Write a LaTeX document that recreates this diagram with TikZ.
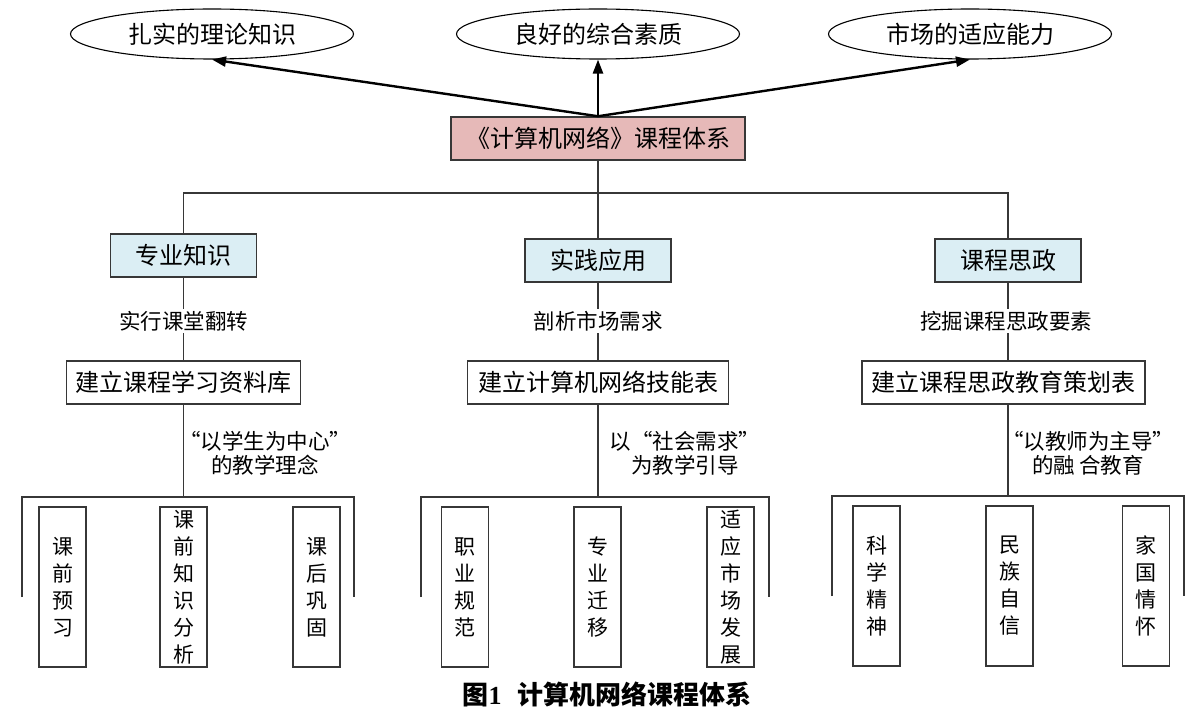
\documentclass[tikz,border=0pt]{standalone}
\usepackage{fontspec}
\newfontfamily\cjk{Noto Sans CJK SC}
\newfontfamily\numfont{Liberation Serif}
\usetikzlibrary{arrows.meta,shapes.geometric}
\definecolor{rootfill}{RGB}{230,185,184}
\definecolor{bluefill}{RGB}{219,238,244}
\definecolor{edge}{RGB}{55,55,55}
\begin{document}
\begin{tikzpicture}[x=1pt,y=-1pt,
  every node/.style={font=\cjk, text=black},
  goal/.style={ellipse, draw=black, line width=1.1pt, minimum width=283pt, minimum height=50pt, inner sep=0pt, font=\cjk\fontsize{24}{28}\selectfont},
  rootbox/.style={draw=edge, line width=1.5pt, fill=rootfill, minimum width=294pt, minimum height=43pt, inner sep=0pt, font=\cjk\fontsize{24}{28}\selectfont},
  topicbox/.style={draw=edge, line width=1.5pt, fill=bluefill, minimum width=146pt, minimum height=43pt, inner sep=0pt, font=\cjk\fontsize{24}{28}\selectfont},
  planbox/.style={draw=edge, line width=1.5pt, fill=white, minimum height=43pt, inner sep=0pt, font=\cjk\fontsize{24}{28}\selectfont},
  leafbox/.style={draw=edge, line width=1.5pt, fill=white, minimum width=47pt, minimum height=160pt, inner sep=0pt, align=center, font=\cjk\fontsize{21}{27}\selectfont},
  steplabel/.style={fill=white, inner sep=2pt, font=\cjk\fontsize{21.5}{24}\selectfont},
  sidelabel/.style={inner sep=0pt, align=center, font=\cjk\fontsize{21.5}{24}\selectfont},
  conn/.style={draw=edge, line width=1.2pt},
  arr/.style={draw=black, line width=2.4pt, -{Triangle[length=14pt,width=10pt]}}
]
\useasboundingbox (0,0) rectangle (1200,711);
\fill[white] (0,0) rectangle (1200,711);

% goals
\node[goal] (e1) at (212,34) {扎实的理论知识};
\node[goal] (e2) at (598,34) {良好的综合素质};
\node[goal] (e3) at (970,34) {市场的适应能力};

% root
\node[rootbox] (root) at (598,138.5) {《计算机网络》课程体系};
\draw[arr] (root.north) -- (e1.south);
\draw[arr] (root.north) -- (e2.south);
\draw[arr] (root.north) -- (e3.south);

% topics
\node[topicbox] (b1) at (183.5,255.5) {专业知识};
\node[topicbox] (b2) at (598,260.5) {实践应用};
\node[topicbox] (b3) at (1008,260.5) {课程思政};
\coordinate (j) at (598,193);
\draw[conn] (root.south) -- (b2.north);
\draw[conn] (b1.north) -- (b1.north |- j) -- (b3.north |- j) -- (b3.north);

% plans
\node[planbox, minimum width=234pt] (c1) at (183.5,382.5) {建立课程学习资料库};
\node[planbox, minimum width=261pt] (c2) at (598,382.5) {建立计算机网络技能表};
\node[planbox, minimum width=283pt] (c3) at (1003.5,382.5) {建立课程思政教育策划表};
\draw[conn] (b1.south) -- (c1.north);
\draw[conn] (b2.south) -- (c2.north);
\draw[conn] (b3.south) -- (b3.south |- c3.north);
\node[steplabel] (s1) at (183.5,321) {实行课堂翻转};
\node[steplabel] (s2) at (598,321) {剖析市场需求};
\node[steplabel] (s3) at (1006,321) {挖掘课程思政要素};

% side labels
\node[sidelabel] (t1) at (265,453) {“以学生为中心”\\的教学理念};
\node[sidelabel] (t2) at (685,453) {以“社会需求”\\为教学引导};
\node[sidelabel] (t3) at (1088,453) {“以教师为主导”\\的融\,合教育};

% brackets
\coordinate (k1) at (183.5,497);
\coordinate (k2) at (598,497);
\coordinate (k3) at (1008,496);
\coordinate (l1a) at (22,597);  \coordinate (l1b) at (22,497);
\coordinate (r1b) at (354,497); \coordinate (r1a) at (354,597);
\coordinate (l2a) at (421,597); \coordinate (l2b) at (421,497);
\coordinate (r2b) at (769,497); \coordinate (r2a) at (769,597);
\coordinate (l3a) at (832,596); \coordinate (l3b) at (832,496);
\coordinate (r3b) at (1184,496); \coordinate (r3a) at (1184,596);
\draw[conn] (c1.south) -- (k1);
\draw[conn] (c2.south) -- (k2);
\draw[conn] (k3 |- c3.south) -- (k3);
\draw[conn] (l1a) -- (l1b) -- (r1b) -- (r1a);
\draw[conn] (l2a) -- (l2b) -- (r2b) -- (r2a);
\draw[conn] (l3a) -- (l3b) -- (r3b) -- (r3a);

% leaves
\node[leafbox] (d1) at (62.5,587) {课\\前\\预\\习};
\node[leafbox] (d2) at (183.5,587) {课\\前\\知\\识\\分\\析};
\node[leafbox] (d3) at (316.5,587) {课\\后\\巩\\固};
\node[leafbox] (d4) at (465,587) {职\\业\\规\\范};
\node[leafbox] (d5) at (597.5,587) {专\\业\\迁\\移};
\node[leafbox] (d6) at (730.5,587) {适\\应\\市\\场\\发\\展};
\node[leafbox] (d7) at (876.5,586) {科\\学\\精\\神};
\node[leafbox] (d8) at (1009.5,586) {民\\族\\自\\信};
\node[leafbox] (d9) at (1146,586) {家\\国\\情\\怀};

% caption
\node[font=\cjk\bfseries\fontsize{26}{30}\selectfont, inner sep=0pt] (cap) at (607,694) {图{\numfont\bfseries 1}\hspace{16pt}计算机网络课程体系};
\end{tikzpicture}
\end{document}
